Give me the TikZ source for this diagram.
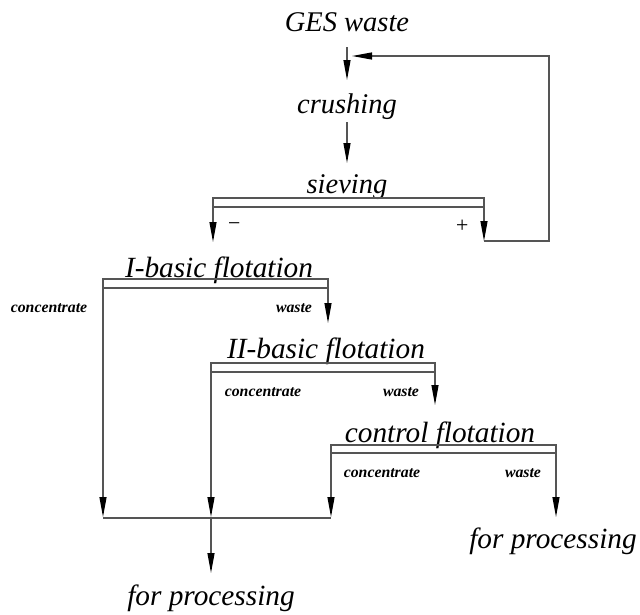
\documentclass[tikz,border=0pt]{standalone}
\usepackage{fontspec}
\setmainfont{Liberation Serif}
\usetikzlibrary{arrows.meta}
\definecolor{linec}{HTML}{555555}
\begin{document}
\begin{tikzpicture}[x=1pt,y=-1pt,
  lbl/.style={font=\fontsize{28.5}{30}\selectfont\itshape, inner sep=0pt, anchor=base},
  big/.style={font=\fontsize{29.3}{31}\selectfont\itshape, inner sep=0pt, anchor=base},
  small/.style={font=\fontsize{15.8}{18}\selectfont\itshape\bfseries, inner sep=0pt, anchor=base},
  sign/.style={font=\fontsize{22}{24}\selectfont\itshape, inner sep=0pt, anchor=center},
  bar/.style={draw=linec, line width=1.2pt, minimum height=9pt, inner sep=0pt, outer sep=0pt},
  flow/.style={draw=linec, line width=1.2pt},
  arr/.style={flow, -{Triangle[length=20pt,width=7pt,color=black]}}]
\useasboundingbox (0,0) rectangle (640,614);
% text nodes
\node[lbl] (ges) at (347,31) {GES waste};
\node[lbl] (crush) at (347,113) {crushing};
\node[lbl] (sieve) at (347,193) {sieving};
\node[big] (fl1) at (219,277) {I-basic flotation};
\node[big] (fl2) at (326,358) {II-basic flotation};
\node[big] (fl3) at (440,442) {control flotation};
\node[big] (proc1) at (211,605) {for processing};
\node[big] (proc2) at (553,548) {for processing};
\node[small] (c1) at (49,312) {concentrate};
\node[small] (w1) at (294,312) {waste};
\node[small] (c2) at (263,396) {concentrate};
\node[small] (w2) at (401,396) {waste};
\node[small] (c3) at (382,477) {concentrate};
\node[small] (w3) at (523,477) {waste};
\node[sign] (minus) at (234,227) {−};
\node[sign] (plus) at (462,226) {+};
% bars
\node[bar, minimum width=271pt] (sbar) at (348.5,202.5) {};
\node[bar, minimum width=225pt] (bar1) at (215.5,283.5) {};
\node[bar, minimum width=224pt] (bar2) at (323,367.5) {};
\node[bar, minimum width=225pt, minimum height=8pt] (bar3) at (443.5,449) {};
% coordinates
\coordinate (g1) at (347,47);
\coordinate (g2) at (347,80);
\coordinate (k1) at (347,122);
\coordinate (k2) at (347,163);
\coordinate (sp) at (484,241);
\coordinate (fbR) at (549,241);
\coordinate (fbT) at (549,56);
\coordinate (fbE) at (352,56);
\coordinate (m1) at (103,518);
\coordinate (m2) at (211,518);
\coordinate (m3) at (331,518);
\coordinate (out) at (211,573);
% connectors
\draw[arr] (g1) -- (g2);
\draw[arr] (k1) -- (k2);
\draw[arr] (sbar.south west) -- ++(0,35);
\draw[arr] (sbar.south east) -- (sp);
\draw[arr] (sp) -- (fbR) -- (fbT) -- (fbE);
\draw[arr] (bar1.south west) -- ([yshift=1pt]m1);
\draw[arr] (bar1.south east) -- ++(0,35);
\draw[arr] (bar2.south west) -- ([yshift=1pt]m2);
\draw[arr] (bar2.south east) -- ++(0,33);
\draw[arr] (bar3.south west) -- ([yshift=1pt]m3);
\draw[arr] (bar3.south east) -- ++(0,64);
\draw[flow] (m1) -- (m3);
\draw[arr] (m2) -- (out);
\end{tikzpicture}
\end{document}
